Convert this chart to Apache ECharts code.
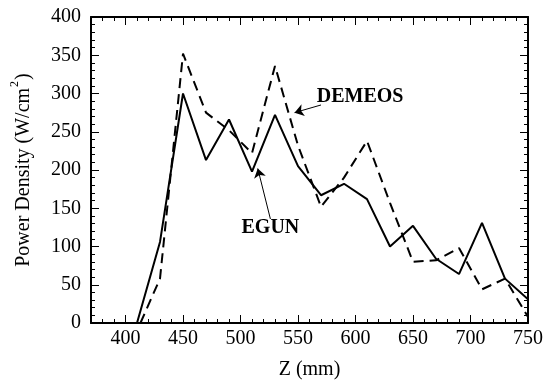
<!DOCTYPE html>
<html>
<head>
<meta charset="utf-8">
<script src="https://cdn.jsdelivr.net/npm/echarts@6/dist/echarts.min.js"></script>
<style>
  html, body { margin: 0; padding: 0; background: #fff; }
  #chart { width: 545px; height: 380px; }
</style>
</head>
<body>
<div id="chart"></div>
<script>
// EGUN (solid) and DEMEOS (dashed) power density along Z
const egunZ = [410, 430, 450, 470, 490, 510, 530, 550, 570, 590, 610, 630, 650, 670, 690, 710, 730, 750];
const egunP = [0, 106, 300, 213, 266, 198, 272, 205, 167, 182, 162, 100, 127, 84, 64, 131, 58, 31];

const demeosZ = [413, 430, 450, 470, 490, 510, 530, 550, 570, 590, 610, 630, 650, 670, 690, 710, 730, 750];
const demeosP = [0, 58, 352, 275, 252, 222, 336, 232, 152, 190, 238, 157, 80, 82, 98, 44, 58, 8];

const xTicks = [400, 450, 500, 550, 600, 650, 700, 750];
const yTicks = [0, 50, 100, 150, 200, 250, 300, 350, 400];

// annotation anchors (data coords)
const demeosLabel = [604, 295];
const demeosArrow = [[570, 285], [547, 275]];
const egunLabel = [526, 124];
const egunArrow = [[526, 136], [515, 202]];

const FONT = "'Liberation Serif', 'Times New Roman', serif";
const xMinorTicks = [];
for (let v = 380; v <= 750; v += 10) xMinorTicks.push(v);

const chart = echarts.init(document.getElementById('chart'));

const axisLine = { show: true, lineStyle: { color: '#000', width: 2 } };
const labelStyle = { color: '#000', fontSize: 20, fontFamily: FONT };

const xBase = { type: 'value', min: 370, max: 750, gridIndex: 0, splitLine: { show: false } };
const yBase = { type: 'value', min: 0, max: 400, interval: 50, gridIndex: 0, splitLine: { show: false } };

const option = {
  animation: false,
  backgroundColor: '#fff',
  grid: { left: 91, right: 17, top: 17, bottom: 57, outerBoundsMode: 'none' },
  xAxis: [
    {
      ...xBase, position: 'bottom',
      axisLine,
      axisTick: { inside: true, length: 8, customValues: xTicks, lineStyle: { color: '#000', width: 1 } },
      axisLabel: { ...labelStyle, customValues: xTicks, margin: 6 },
      name: 'Z (mm)', nameLocation: 'middle', nameGap: 37,
      nameTextStyle: { ...labelStyle }
    },
    {
      ...xBase, position: 'bottom',
      axisLine: { show: false },
      axisTick: { inside: true, length: 4, customValues: xMinorTicks, lineStyle: { color: '#000', width: 1 } },
      axisLabel: { show: false }
    },
    {
      ...xBase, position: 'top',
      axisLine,
      axisTick: { inside: true, length: 8, customValues: xTicks, lineStyle: { color: '#000', width: 1 } },
      axisLabel: { show: false }
    },
    {
      ...xBase, position: 'top',
      axisLine: { show: false },
      axisTick: { inside: true, length: 4, customValues: xMinorTicks, lineStyle: { color: '#000', width: 1 } },
      axisLabel: { show: false }
    }
  ],
  yAxis: [
    {
      ...yBase, position: 'left',
      axisLine,
      axisTick: { inside: true, length: 8, lineStyle: { color: '#000', width: 1 } },
      minorTick: { show: true, splitNumber: 5, length: 4, lineStyle: { color: '#000', width: 1 } },
      axisLabel: { ...labelStyle, margin: 10, customValues: yTicks },
      name: '{a|Power Density (W/cm}{s|2}{a|)}',
      nameLocation: 'middle', nameGap: 52,
      nameTextStyle: {
        rich: {
          a: { fontSize: 20, fontFamily: FONT, color: '#000', lineHeight: 30 },
          s: { fontSize: 12, fontFamily: FONT, color: '#000', verticalAlign: 'top', lineHeight: 12, padding: [0, 1, 0, 1] }
        }
      }
    },
    {
      ...yBase, position: 'right',
      axisLine,
      axisTick: { inside: true, length: 8, lineStyle: { color: '#000', width: 1 } },
      minorTick: { show: true, splitNumber: 5, length: 4, lineStyle: { color: '#000', width: 1 } },
      axisLabel: { show: false }
    }
  ],
  series: [
    {
      name: 'EGUN',
      type: 'line',
      data: egunZ.map((z, i) => [z, egunP[i]]),
      showSymbol: false,
      lineStyle: { color: '#000', width: 2 },
      markLine: {
        silent: true,
        symbol: ['none', 'arrow'],
        symbolSize: 9,
        label: { show: false },
        lineStyle: { color: '#000', width: 1, type: 'solid' },
        data: [
          [{ coord: demeosArrow[0] }, { coord: demeosArrow[1] }],
          [{ coord: egunArrow[0] }, { coord: egunArrow[1] }]
        ]
      },
      markPoint: {
        silent: true,
        symbol: 'circle',
        symbolSize: 1,
        itemStyle: { color: 'rgba(0,0,0,0)' },
        label: {
          show: true, position: 'inside', color: '#000',
          fontSize: 20, fontWeight: 'bold', fontFamily: FONT
        },
        data: [
          { coord: demeosLabel, value: 'DEMEOS', label: { formatter: 'DEMEOS' } },
          { coord: egunLabel, value: 'EGUN', label: { formatter: 'EGUN' } }
        ]
      }
    },
    {
      name: 'DEMEOS',
      type: 'line',
      data: demeosZ.map((z, i) => [z, demeosP[i]]),
      showSymbol: false,
      lineStyle: { color: '#000', width: 2, type: [10, 6] }
    }
  ]
};

chart.setOption(option);
</script>
</body>
</html>
